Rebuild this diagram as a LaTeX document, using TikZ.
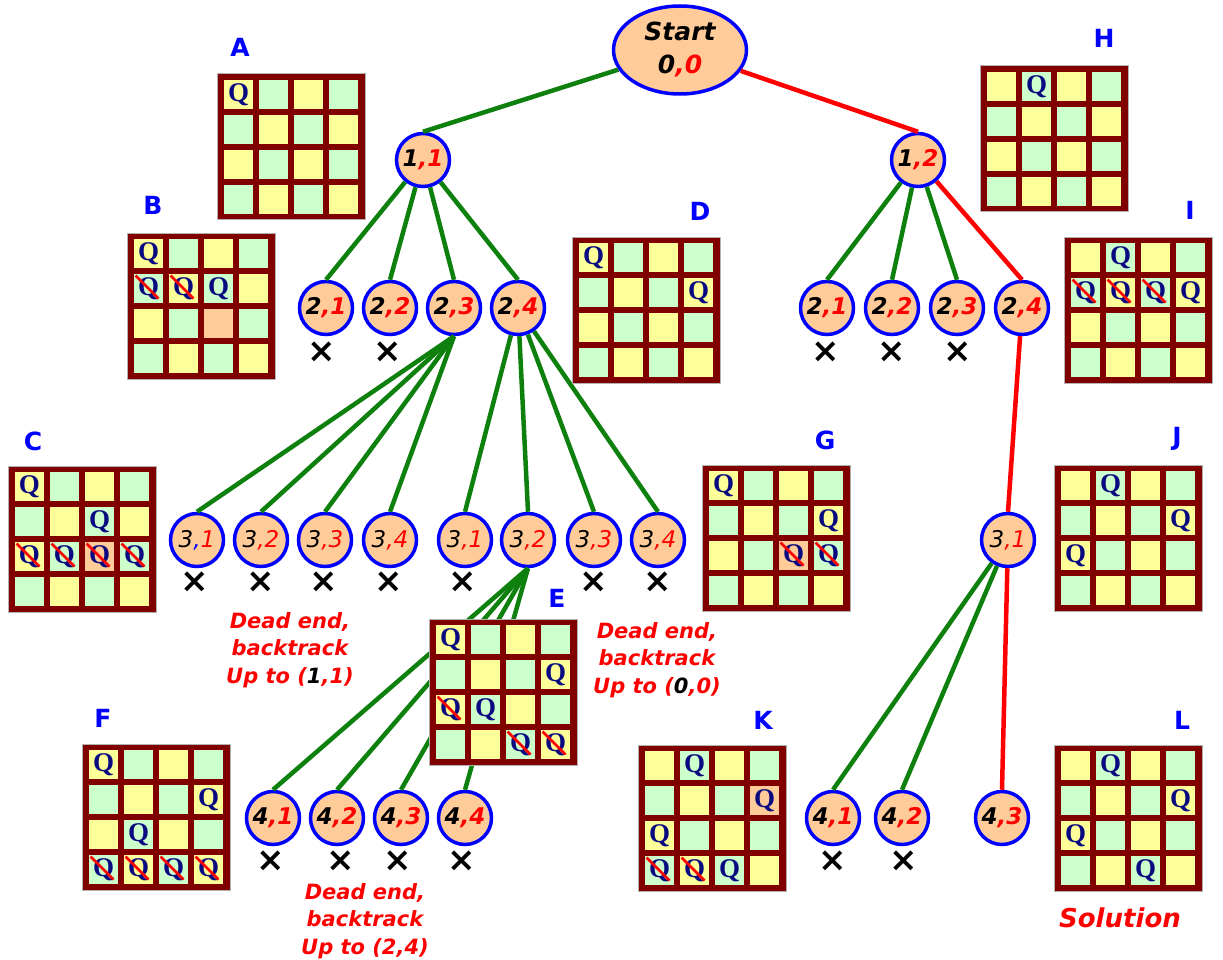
\documentclass[tikz,border=0pt]{standalone}
\usepackage{fontspec}
\setmainfont{DejaVu Sans}
\newfontfamily\queenfont{Liberation Serif}
\usetikzlibrary{shapes.geometric}

\definecolor{peach}{HTML}{FFCC99}
\definecolor{cellyellow}{HTML}{FFFF99}
\definecolor{cellgreen}{HTML}{CCFFCC}
\definecolor{maroon}{HTML}{800000}
\definecolor{treegreen}{HTML}{0E800E}
\definecolor{queenblue}{HTML}{0A0A80}

% board: x, y (top left), peach cells, queens, queens struck out
\newcommand{\qboard}[5]{%
  \begin{scope}[shift={(#1,#2)}]
    \draw[gray!60, fill=maroon, line width=1pt] (0,0) rectangle (148,146);
    \foreach \r in {1,...,4}
      \foreach \c in {1,...,4}{
        \pgfmathtruncatemacro{\cellodd}{mod(\r+\c,2)}
        \ifnum\cellodd=0
          \fill[cellyellow] (7+35*\c-35,6+35*\r-35) rectangle ++(29,29);
        \else
          \fill[cellgreen] (7+35*\c-35,6+35*\r-35) rectangle ++(29,29);
        \fi
      }
    \foreach \r/\c in {#3}
      \fill[peach] (7+35*\c-35,6+35*\r-35) rectangle ++(29,29);
    \foreach \r/\c in {#4}
      \node[queen] at (21.5+35*\c-35,20.5+35*\r-35) {Q};
    \foreach \r/\c in {#5}{
      \node[queen] at (21.5+35*\c-35,20.5+35*\r-35) {Q};
      \draw[red, line width=2.5pt] (8.5+35*\c-35,7.5+35*\r-35) -- ++(23,23);
    }
  \end{scope}}

\newcommand{\qpos}[2]{#1{\color{red},#2}}

\begin{document}
\begin{tikzpicture}[
    x = 1pt, y = -1pt,
    state/.style = {circle, draw = blue, line width = 3.5pt, fill = peach,
                    minimum size = 53pt, inner sep = 0pt,
                    font = \fontsize{23}{23}\selectfont\bfseries\itshape},
    thinstate/.style = {state, font = \fontsize{23}{23}\selectfont\itshape},
    goodedge/.style = {treegreen, line width = 4.5pt},
    solution/.style = {red, line width = 4.5pt},
    failmark/.style = {font = \fontsize{34}{34}\selectfont\bfseries},
    boardname/.style = {text = blue, font = \fontsize{25}{25}\selectfont\bfseries},
    deadend/.style = {text = red, align = center,
                      font = \fontsize{21}{27.5}\selectfont\bfseries\itshape},
    queen/.style = {text = queenblue, inner sep = 0pt,
                    font = \queenfont\fontsize{27}{27}\selectfont\bfseries}]

\useasboundingbox (0,0) rectangle (1223,960);

% tree
\node[state, ellipse, minimum width = 133pt, minimum height = 88pt, align = center,
      font = \fontsize{25}{33}\selectfont\bfseries\itshape] (s) at (680,50)
      {Start\\\qpos{0}{0}};
\node[state] (n11) at (423,160) {\qpos{1}{1}};
\node[state] (n12) at (918,160) {\qpos{1}{2}};

\node[state] (a21) at (326,308) {\qpos{2}{1}};
\node[state] (a22) at (390,308) {\qpos{2}{2}};
\node[state] (a23) at (454,308) {\qpos{2}{3}};
\node[state] (a24) at (518,308) {\qpos{2}{4}};
\node[state] (b21) at (827,308) {\qpos{2}{1}};
\node[state] (b22) at (892,308) {\qpos{2}{2}};
\node[state] (b23) at (957,308) {\qpos{2}{3}};
\node[state] (b24) at (1022,308) {\qpos{2}{4}};

\node[thinstate] (c31) at (197,540) {3{\color{blue},}{\color{red}1}};
\node[thinstate] (c32) at (261,540) {\qpos{3}{2}};
\node[thinstate] (c33) at (325,540) {\qpos{3}{3}};
\node[thinstate] (c34) at (390,540) {\qpos{3}{4}};
\node[thinstate] (d31) at (465,540) {\qpos{3}{1}};
\node[thinstate] (d32) at (528,540) {\qpos{3}{2}};
\node[thinstate] (d33) at (594,540) {\qpos{3}{3}};
\node[thinstate] (d34) at (658,540) {\qpos{3}{4}};
\node[thinstate] (e31) at (1008,540) {\qpos{3}{1}};

\node[state] (f41) at (273,818) {\qpos{4}{1}};
\node[state] (f42) at (337,818) {\qpos{4}{2}};
\node[state] (f43) at (401,818) {\qpos{4}{3}};
\node[state] (f44) at (465,818) {\qpos{4}{4}};
\node[state] (g41) at (833,818) {\qpos{4}{1}};
\node[state] (g42) at (902,818) {\qpos{4}{2}};
\node[state] (g43) at (1002,818) {\qpos{4}{3}};

% edges
\draw[goodedge] (s) -- (n11.north);
\draw[solution] (s) -- (n12.north);
\foreach \k in {1,...,4}
  \draw[goodedge] (n11) -- (a2\k.north);
\foreach \k in {1,2,3}
  \draw[goodedge] (n12) -- (b2\k.north);
\draw[solution] (n12) -- (b24.north);
\foreach \k in {1,...,4}
  \draw[goodedge] (a23.south) -- (c3\k.north);
\foreach \k in {1,...,4}
  \draw[goodedge] (a24) -- (d3\k.north);
\draw[solution] (b24) -- (e31.north);
\foreach \k in {1,...,4}
  \draw[goodedge] (d32.south) -- (f4\k.north);
\draw[goodedge] (e31) -- (g41.north);
\draw[goodedge] (e31) -- (g42.north);
\draw[solution] (e31) -- (g43.north);

% dead ends
\path (322,352) node[failmark] (a21x) {×}
      (388,352) node[failmark] (a22x) {×}
      (826,352) node[failmark] (b21x) {×}
      (892,352) node[failmark] (b22x) {×}
      (958,352) node[failmark] (b23x) {×};
\foreach \n/\xx in {c31/195,c32/261,c33/324,c34/389,d31/463,d33/594,d34/658}
  \node[failmark] (\n x) at (\xx,582) {×};
\foreach \n/\xx in {f41/271,f42/341,f43/398,f44/462,g41/833,g42/904}
  \node[failmark] (\n x) at (\xx,861) {×};

% boards
\qboard{217}{74}{}{1/1}{}
\qboard{127}{233}{3/3}{1/1,2/3}{2/1,2/2}
\qboard{8}{466}{3/3}{1/1,2/3}{3/1,3/2,3/3,3/4}
\qboard{572}{237}{}{1/1,2/4}{}
\qboard{429}{619}{}{1/1,2/4,3/2}{3/1,4/3,4/4}
\qboard{82}{744}{}{1/1,2/4,3/2}{4/1,4/2,4/3,4/4}
\qboard{702}{465}{3/3}{1/1,2/4}{3/3,3/4}
\qboard{980}{66}{}{1/2}{}
\qboard{1064}{237}{}{1/2,2/4}{2/1,2/2,2/3}
\qboard{1054}{465}{}{1/2,2/4,3/1}{}
\qboard{638}{745}{2/4}{1/2,2/4,3/1,4/3}{4/1,4/2}
\qboard{1054}{745}{}{1/2,2/4,3/1,4/3}{}

\path (240,47) node[boardname] (nameA) {A}
      (153,205) node[boardname] (nameB) {B}
      (33,441) node[boardname] (nameC) {C}
      (700,211) node[boardname] (nameD) {D}
      (557,598) node[boardname] (nameE) {E}
      (103,718) node[boardname] (nameF) {F}
      (825,440) node[boardname] (nameG) {G}
      (1104,38) node[boardname] (nameH) {H}
      (1190,210) node[boardname] (nameI) {I}
      (1177,439) node[boardname] (nameJ) {J}
      (763,720) node[boardname] (nameK) {K}
      (1182,720) node[boardname] (nameL) {L};

\node[deadend] (back11) at (290,650) {Dead end,\\backtrack\\Up to ({\color{black}1},1)};
\node[deadend] (back00) at (657,660) {Dead end,\\backtrack\\Up to ({\color{black}0},0)};
\node[deadend] (back24) at (365,921) {Dead end,\\backtrack\\Up to (2,4)};
\node[text = red, font = \fontsize{26}{26}\selectfont\bfseries\itshape] (solved)
      at (1120,918) {Solution};
\end{tikzpicture}
\end{document}
